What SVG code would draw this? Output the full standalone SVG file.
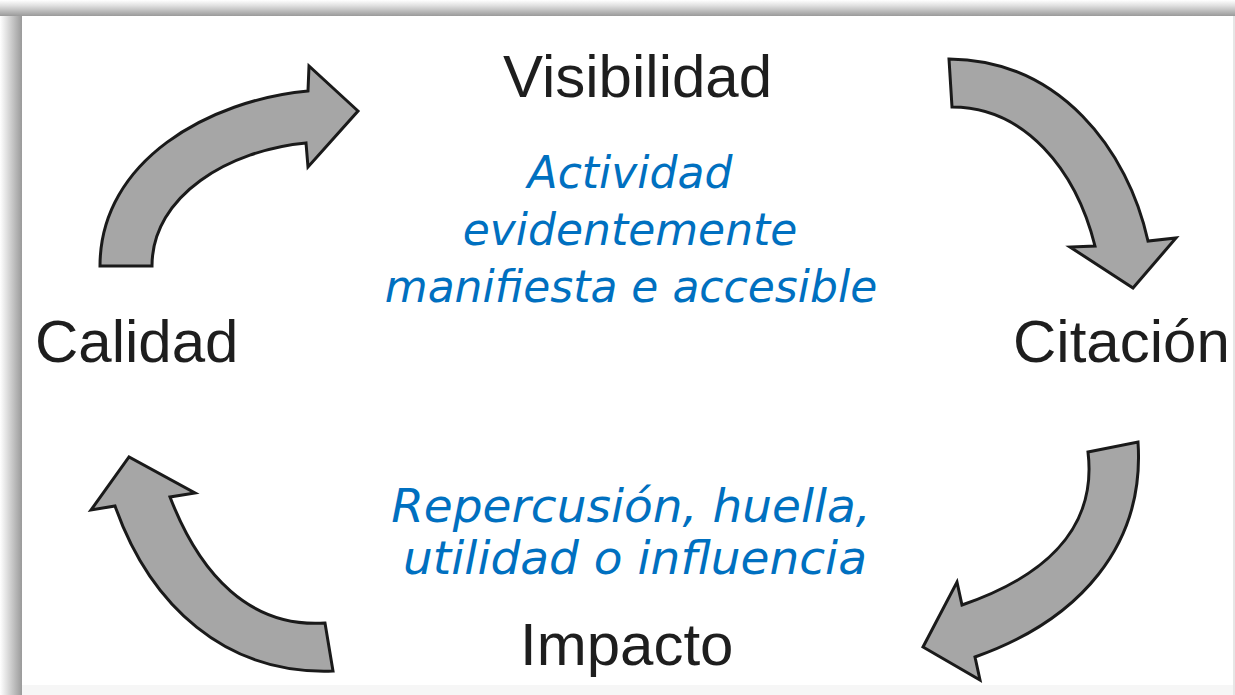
<svg xmlns="http://www.w3.org/2000/svg" width="1235" height="695" viewBox="0 0 1235 695">
<defs>
<linearGradient id="gTop" x1="0" y1="0" x2="0" y2="1">
<stop offset="0" stop-color="#ffffff"/>
<stop offset="0.35" stop-color="#e0e0e0"/>
<stop offset="1" stop-color="#9a9a9a"/>
</linearGradient>
<linearGradient id="gLeft" x1="0" y1="0" x2="1" y2="0">
<stop offset="0" stop-color="#ffffff"/>
<stop offset="0.35" stop-color="#dcdcdc"/>
<stop offset="1" stop-color="#9a9a9a"/>
</linearGradient>
<style>
.arrow{fill:#a6a6a6;stroke:#1a1a1a;stroke-width:3;stroke-linejoin:miter}
.lbl{font-family:"Liberation Sans",Arial,sans-serif;font-size:60px;fill:#1e1e1e}
.note{font-family:"DejaVu Sans",Verdana,sans-serif;font-style:italic;fill:#0070c0;text-anchor:middle}
.n1{font-size:44px}
.n2{font-size:47px}
</style>
</defs>
<rect x="0" y="0" width="1235" height="695" fill="#ffffff"/>
<rect x="22" y="685" width="1213" height="10" fill="#f6f6f6"/>
<rect x="1233" y="16" width="2" height="679" fill="#e6e6e6"/>
<rect x="0" y="0" width="22" height="695" fill="url(#gLeft)"/>
<rect x="0" y="0" width="1235" height="16" fill="url(#gTop)"/>
<g id="connectors">
<path id="arrow-calidad-visibilidad" class="arrow" d="M100,266 C100,160 210,100 308,91 L309,66 L358,111 L308,167 L306,143 C230,150 152,195 152,266 Z"/>
<path id="arrow-visibilidad-citacion" class="arrow" d="M949,59 C1060,60 1128,150 1148,241 L1176,238 L1133,288 L1070,247 L1095,246 C1076,170 1025,107 952,107 Z"/>
<path id="arrow-citacion-impacto" class="arrow" d="M1138,442 C1145,545 1080,620 975,657 L980,680 L923,647 L957,582 L962,605 C1035,580 1098,535 1088,452 Z"/>
<path id="arrow-impacto-calidad" class="arrow" d="M333,671 C225,675 150,605 115,506 L91,510 L129,457 L195,493 L170,497 C200,575 250,628 325,623 Z"/>
</g>
<g id="node-visibilidad"><text class="lbl" x="503" y="97">Visibilidad</text></g>
<g id="node-calidad"><text class="lbl" x="35" y="362">Calidad</text></g>
<g id="node-citacion"><text class="lbl" x="1013" y="362">Citación</text></g>
<g id="node-impacto"><text class="lbl" x="520" y="665">Impacto</text></g>
<g id="note-visibilidad">
<text class="note n1" x="630" y="188">Actividad</text>
<text class="note n1" x="630" y="245">evidentemente</text>
<text class="note n1" x="631" y="302">manifiesta e accesible</text>
</g>
<g id="note-impacto">
<text class="note n2" x="631" y="522">Repercusión, huella,</text>
<text class="note n2" x="635" y="574">utilidad o influencia</text>
</g>
</svg>
